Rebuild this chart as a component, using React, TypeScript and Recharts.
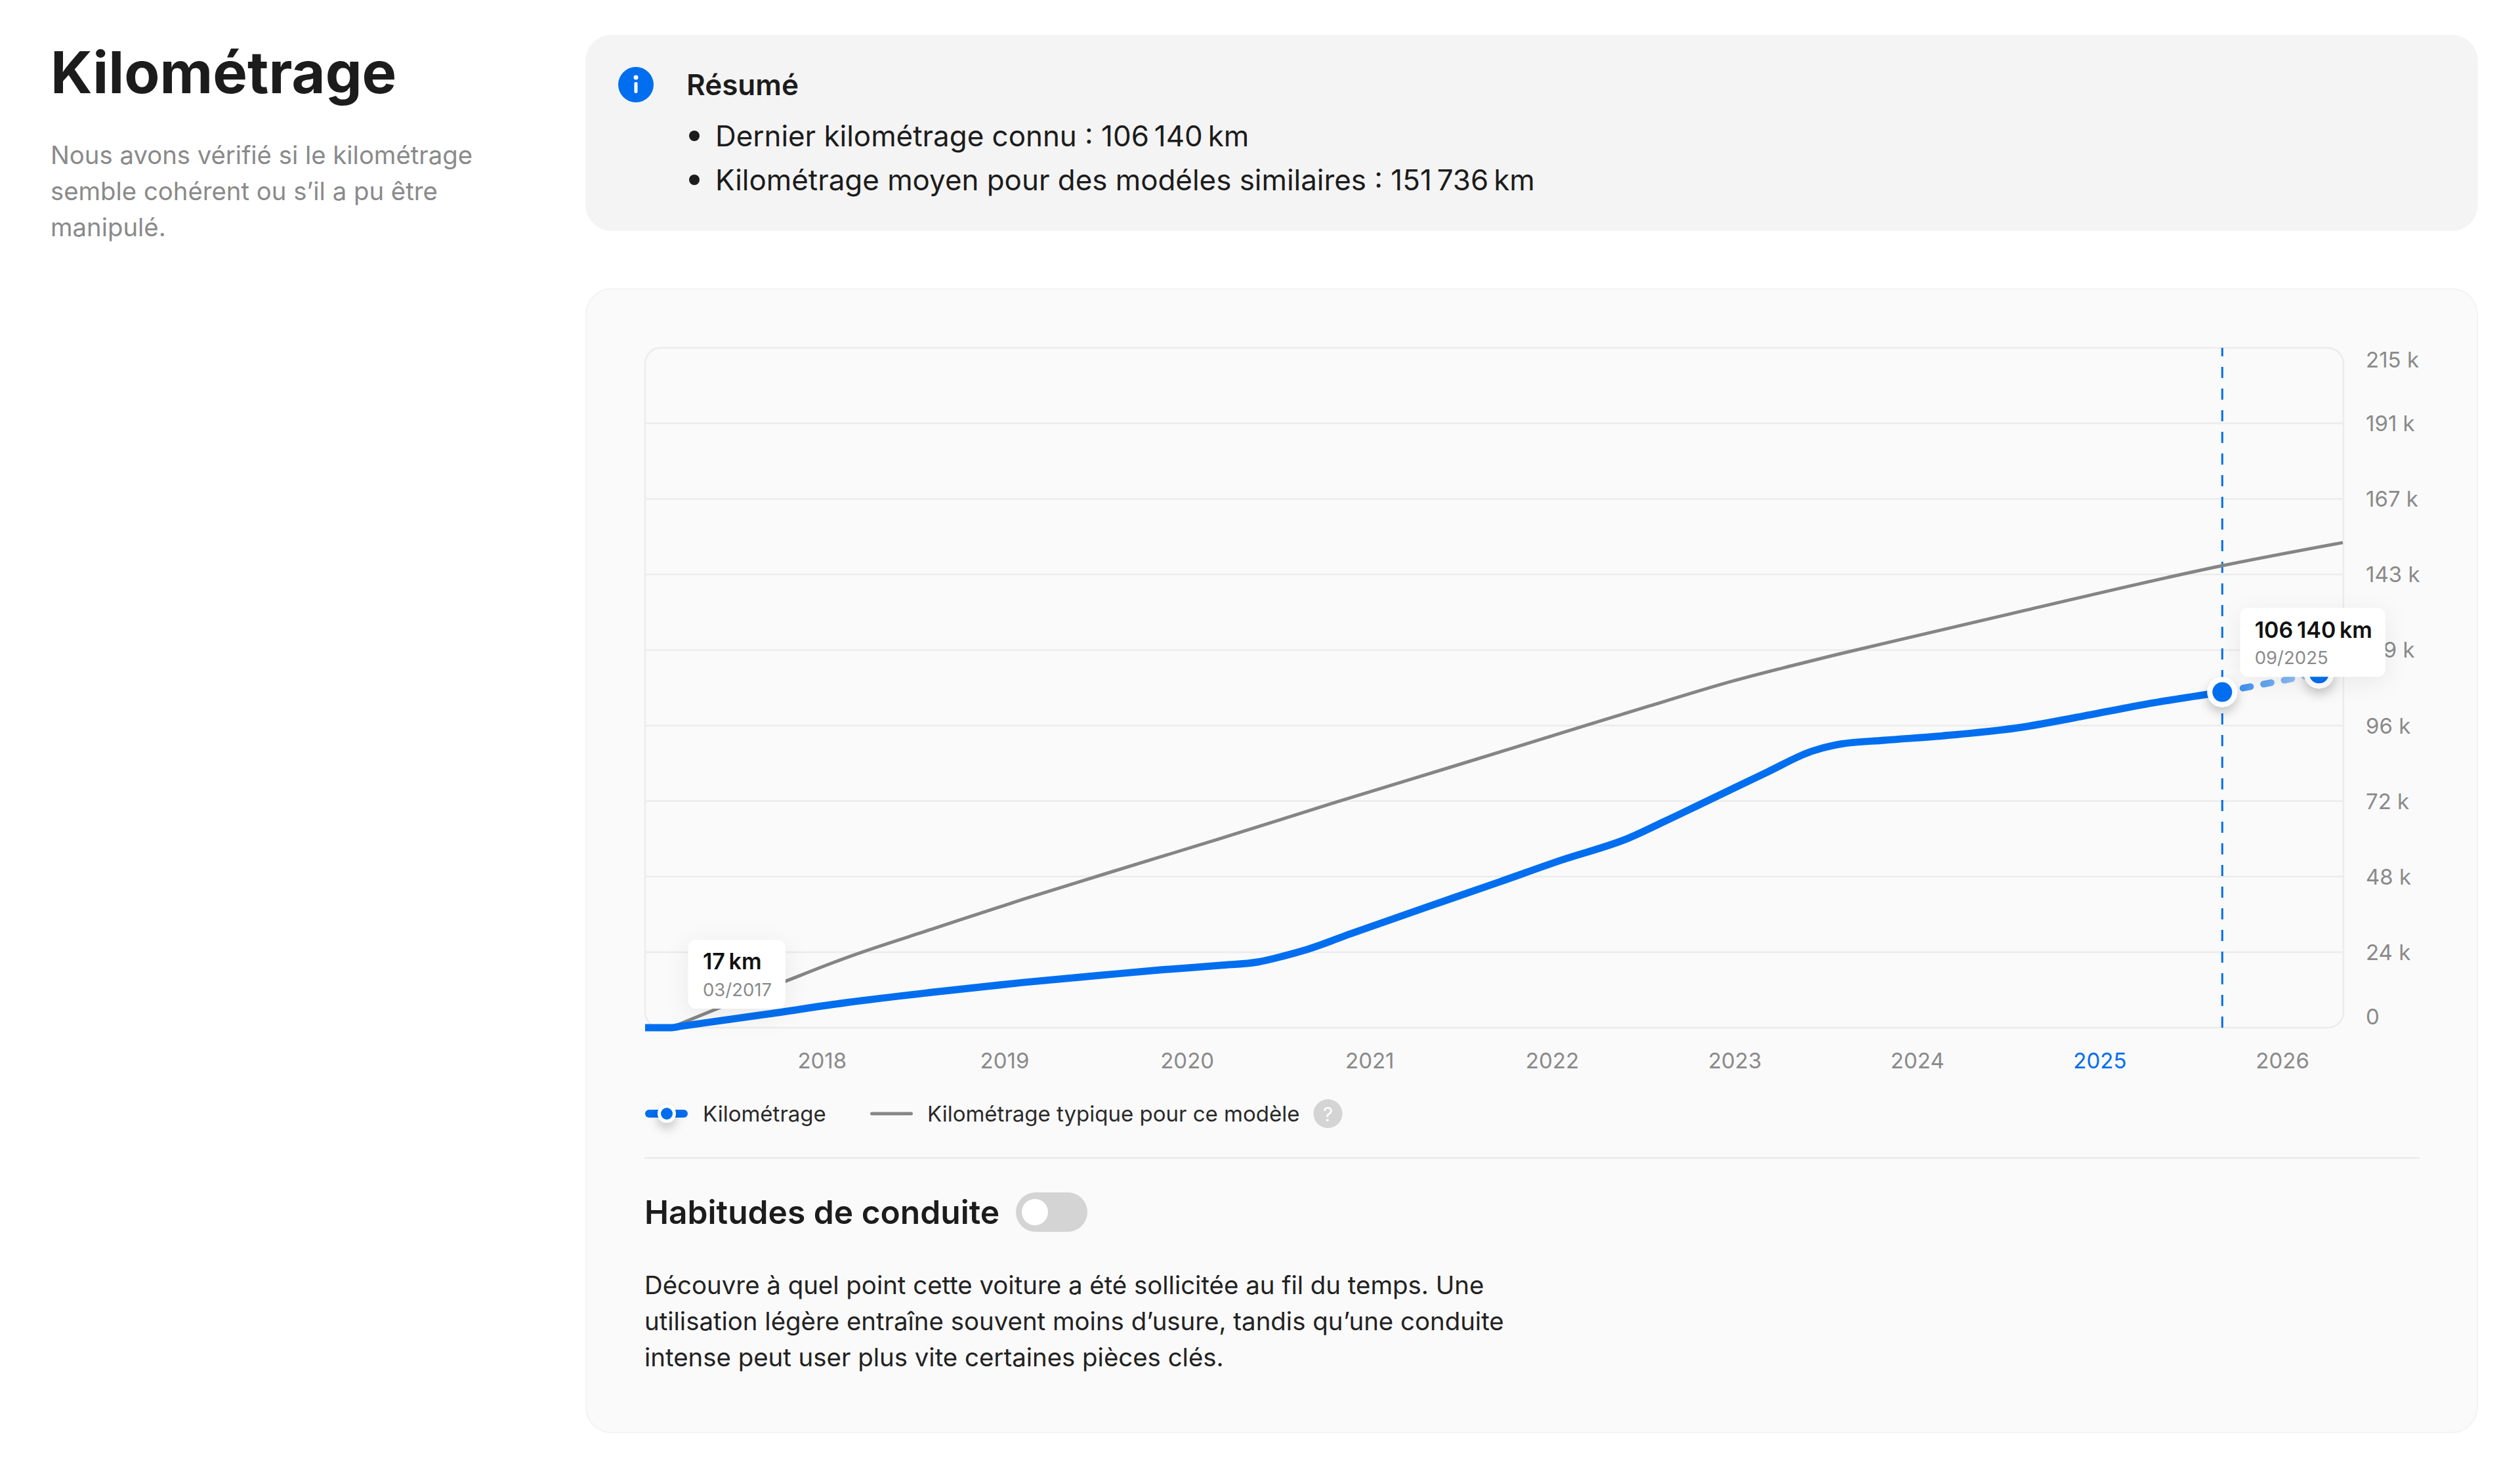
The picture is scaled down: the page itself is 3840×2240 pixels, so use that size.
import React from "react";
import { CartesianGrid, Legend, Line, LineChart, ReferenceArea, ReferenceDot, ReferenceLine, XAxis, YAxis } from "recharts";

const FONT = "Inter, sans-serif";
const BLUE = "#006eee";
const GREY_LINE = "#858585";
const GREY_TEXT = "#8a8a8a";
const DARK = "#1c1c1c";

// decimal years
const mileageYears = [2017.03, 2017.17, 2017.23, 2017.7, 2018.14, 2018.62, 2019.1, 2019.53, 2019.86, 2020.18, 2020.39, 2020.53, 2020.66, 2020.9, 2021.3, 2021.7, 2022.05, 2022.42, 2022.61, 2022.86, 2023.18, 2023.42, 2023.58, 2023.82, 2024.14, 2024.57, 2024.86, 2025.25, 2025.67];
const mileageValues = [17, 17, 500, 4300, 8000, 11300, 14300, 16600, 18300, 19700, 20800, 22700, 24800, 29800, 37900, 45900, 53000, 60000, 65100, 72000, 80900, 87400, 89700, 90900, 92300, 95000, 98000, 102300, 106140];
const projectedYears = [2025.67, 2026.2];
const projectedValues = [106140, 112000];
const typicalYears = [2017.17, 2017.8, 2018.14, 2018.62, 2019.1, 2019.53, 2020.18, 2020.82, 2021.46, 2022.05, 2022.53, 2023.0, 2023.3, 2023.58, 2024.06, 2024.57, 2025.67, 2026.33];
const typicalValues = [0, 14700, 22300, 31500, 40600, 48300, 59800, 71400, 82700, 93200, 101700, 109800, 114300, 118300, 124800, 131700, 146100, 153400];

const yearTicks = [2018, 2019, 2020, 2021, 2022, 2023, 2024, 2025, 2026];
const kmTicks = [0, 23889, 47778, 71667, 95556, 119444, 143333, 167222, 191111, 215000];
const xDomain = [2017.03, 2026.334];
const currentYear = 2025;
const seriesNames = ["Kilométrage", "Kilométrage typique pour ce modèle"];

const mileageData = mileageYears.map((year, i) => ({ year, km: mileageValues[i] }));
const projectedData = projectedYears.map((year, i) => ({ year, km: projectedValues[i] }));
const typicalData = typicalYears.map((year, i) => ({ year, km: typicalValues[i] }));

function XTick({ x, y, payload }: any) {
  return (
    <text x={x} y={y} textAnchor="middle" dominantBaseline="central" fontFamily={FONT} fontSize={33} fill={payload.value === currentYear ? BLUE : GREY_TEXT}>
      {payload.value}
    </text>
  );
}

function YTick({ x, y, payload }: any) {
  const nudge = payload.value === 0 ? -17 : payload.value === 215000 ? 18 : 0;
  return (
    <text x={x} y={y + nudge} textAnchor="start" dominantBaseline="central" fontFamily={FONT} fontSize={33} fill={GREY_TEXT}>
      {payload.value === 0 ? "0" : `${Math.round(payload.value / 1000)} k`}
    </text>
  );
}

function RingDot({ cx, cy }: any) {
  return (
    <g>
      <circle cx={cx} cy={cy} r={23} fill="#fff" filter="url(#dotShadow)" />
      <circle cx={cx} cy={cy} r={15} fill={BLUE} />
    </g>
  );
}

function Bubble({ cx, cy, dx, dy, w, title, sub }: any) {
  const left = cx + dx;
  const top = cy + dy;
  return (
    <g>
      <rect x={left} y={top} width={w} height={105} rx={12} fill="#fff" filter="url(#bubbleShadow)" />
      <text x={left + 22} y={top + 33} dominantBaseline="central" fontFamily={FONT} fontSize={34} fontWeight={600} fill="#111">{title}</text>
      <text x={left + 22} y={top + 76} dominantBaseline="central" fontFamily={FONT} fontSize={27.5} fill={GREY_TEXT}>{sub}</text>
    </g>
  );
}

function LegendRow() {
  return (
    <div style={{ position: "relative", height: 80, fontFamily: FONT, fontSize: 33, color: "#2a2a2a" }}>
      <svg width={1100} height={80} style={{ position: "absolute", left: 0, top: 0 }}>
        <rect x={0} y={34} width={65} height={12} rx={6} fill={BLUE} />
        <circle cx={33} cy={40} r={14} fill="#fff" filter="url(#dotShadow)" />
        <circle cx={33} cy={40} r={9} fill={BLUE} />
        <rect x={343} y={37.5} width={65} height={5} rx={2.5} fill={GREY_LINE} />
        <circle cx={1040.5} cy={40} r={22} fill="#d4d4d4" />
        <text x={1040.5} y={41} textAnchor="middle" dominantBaseline="central" fontFamily={FONT} fontSize={30} fill="#fff">?</text>
      </svg>
      <span style={{ position: "absolute", left: 88, top: 20, lineHeight: "40px" }}>{seriesNames[0]}</span>
      <span style={{ position: "absolute", left: 430, top: 20, lineHeight: "40px", whiteSpace: "nowrap" }}>{seriesNames[1]}</span>
    </div>
  );
}

function MileageChart() {
  return (
    <LineChart width={2884} height={1321} margin={{ top: 90, right: 0, bottom: 24, left: 91 }} style={{ position: "absolute", left: 892, top: 440 }}>
      <defs>
        <filter id="bubbleShadow" x="-40%" y="-40%" width="180%" height="200%">
          <feDropShadow dx={0} dy={8} stdDeviation={18} floodColor="#000" floodOpacity={0.07} />
        </filter>
        <filter id="dotShadow" x="-100%" y="-100%" width="300%" height="300%">
          <feDropShadow dx={0} dy={8} stdDeviation={8} floodColor="#000" floodOpacity={0.22} />
        </filter>
        <linearGradient id="projectedFade" x1="0" y1="0" x2="1" y2="0">
          <stop offset="0%" stopColor={BLUE} stopOpacity={0.85} />
          <stop offset="100%" stopColor={BLUE} stopOpacity={0.3} />
        </linearGradient>
      </defs>
      <CartesianGrid vertical={false} stroke="#ececec" strokeWidth={2.5} horizontalValues={kmTicks.slice(1, -1)} />
      <ReferenceArea x1={xDomain[0]} x2={xDomain[1]} y1={0} y2={215000} fill="none" stroke="#ececec" strokeWidth={2.5} radius={24} />
      <XAxis type="number" dataKey="year" domain={xDomain} ticks={yearTicks} axisLine={false} tickLine={false} tickSize={0} tickMargin={50} height={91} tick={<XTick />} interval={0} />
      <YAxis type="number" orientation="right" domain={[0, 215000]} ticks={kmTicks} axisLine={false} tickLine={false} tickSize={0} tickMargin={34} width={205} tick={<YTick />} interval={0} />
      <ReferenceLine x={2025.67} stroke={BLUE} strokeWidth={3} strokeDasharray="17 16" />
      <Line data={typicalData} dataKey="km" type="monotone" stroke={GREY_LINE} strokeWidth={5} dot={false} isAnimationActive={false} />
      <Line data={mileageData} dataKey="km" type="monotone" stroke={BLUE} strokeWidth={11} dot={false} isAnimationActive={false} />
      <Line data={projectedData} dataKey="km" type="linear" stroke="url(#projectedFade)" strokeWidth={10} strokeDasharray="12 20" strokeLinecap="round" dot={<RingDot />} isAnimationActive={false} />
      <ReferenceDot x={2017.17} y={17} r={0} zIndex={3000} shape={(p: any) => <Bubble {...p} dx={27} dy={-134} w={148} title={"17\u202fkm"} sub="03/2017" />} />
      <ReferenceDot x={2026.2} y={112000} r={0} zIndex={3000} shape={(p: any) => <Bubble {...p} dx={-120} dy={-100} w={221} title={"106\u202f140\u202fkm"} sub="09/2025" />} />
      <Legend content={<LegendRow />} height={80} verticalAlign="bottom" />
    </LineChart>
  );
}

export default function App() {
  const abs = (left: number, top: number, extra: React.CSSProperties = {}): React.CSSProperties => ({ position: "absolute", left, top, whiteSpace: "nowrap", ...extra });
  return (
    <div style={{ position: "absolute", left: 0, top: 0, width: 3840, height: 2240, background: "#fff", fontFamily: FONT, overflow: "hidden" }}>
      <div style={abs(77, 55, { fontSize: 88.5, fontWeight: 700, lineHeight: "110px", color: DARK })}>Kilométrage</div>
      <div style={abs(77, 209, { fontSize: 38.3, lineHeight: "55px", color: GREY_TEXT })}>
        Nous avons vérifié si le kilométrage<br />semble cohérent ou s’il a pu être<br />manipulé.
      </div>

      <div style={abs(892, 53, { width: 2884, height: 299, background: "#f4f4f4", borderRadius: 40 })} />
      <svg width={54} height={54} style={abs(942, 102)}>
        <circle cx={27} cy={27} r={27} fill={BLUE} />
        <circle cx={27} cy={16} r={3.5} fill="#fff" />
        <rect x={24.5} y={23} width={5} height={17} rx={2} fill="#fff" />
      </svg>
      <div style={abs(1046, 102, { fontSize: 44, fontWeight: 600, lineHeight: "54px", color: DARK })}>Résumé</div>
      <div style={abs(1090, 174, { fontSize: 43.9, lineHeight: "67px", color: DARK })}>
        Dernier kilométrage connu : 106{"\u202f"}140{"\u202f"}km<br />
        Kilométrage moyen pour des modéles similaires : 151{"\u202f"}736{"\u202f"}km
      </div>
      <div style={abs(1050, 199, { width: 16, height: 16, borderRadius: 8, background: DARK })} />
      <div style={abs(1050, 266, { width: 16, height: 16, borderRadius: 8, background: DARK })} />

      <div style={{ ...abs(892, 439), width: 2884, height: 1745, boxSizing: "border-box", background: "#fafafa", border: "2.5px solid #f3f3f3", borderRadius: 40 }} />
      <MileageChart />

      <div style={abs(982, 1763, { width: 2705, height: 3, background: "#ececec" })} />
      <div style={abs(982, 1814, { fontSize: 49.7, fontWeight: 600, lineHeight: "66px", color: DARK })}>Habitudes de conduite</div>
      <div style={abs(1548, 1817, { width: 109, height: 60, borderRadius: 30, background: "#d4d4d4" })} />
      <div style={abs(1557, 1827, { width: 40, height: 40, borderRadius: 20, background: "#fff" })} />
      <div style={abs(982, 1931, { fontSize: 38.4, lineHeight: "55px", color: "#222" })}>
        Découvre à quel point cette voiture a été sollicitée au fil du temps. Une<br />
        utilisation légère entraîne souvent moins d’usure, tandis qu’une conduite<br />
        intense peut user plus vite certaines pièces clés.
      </div>
    </div>
  );
}
